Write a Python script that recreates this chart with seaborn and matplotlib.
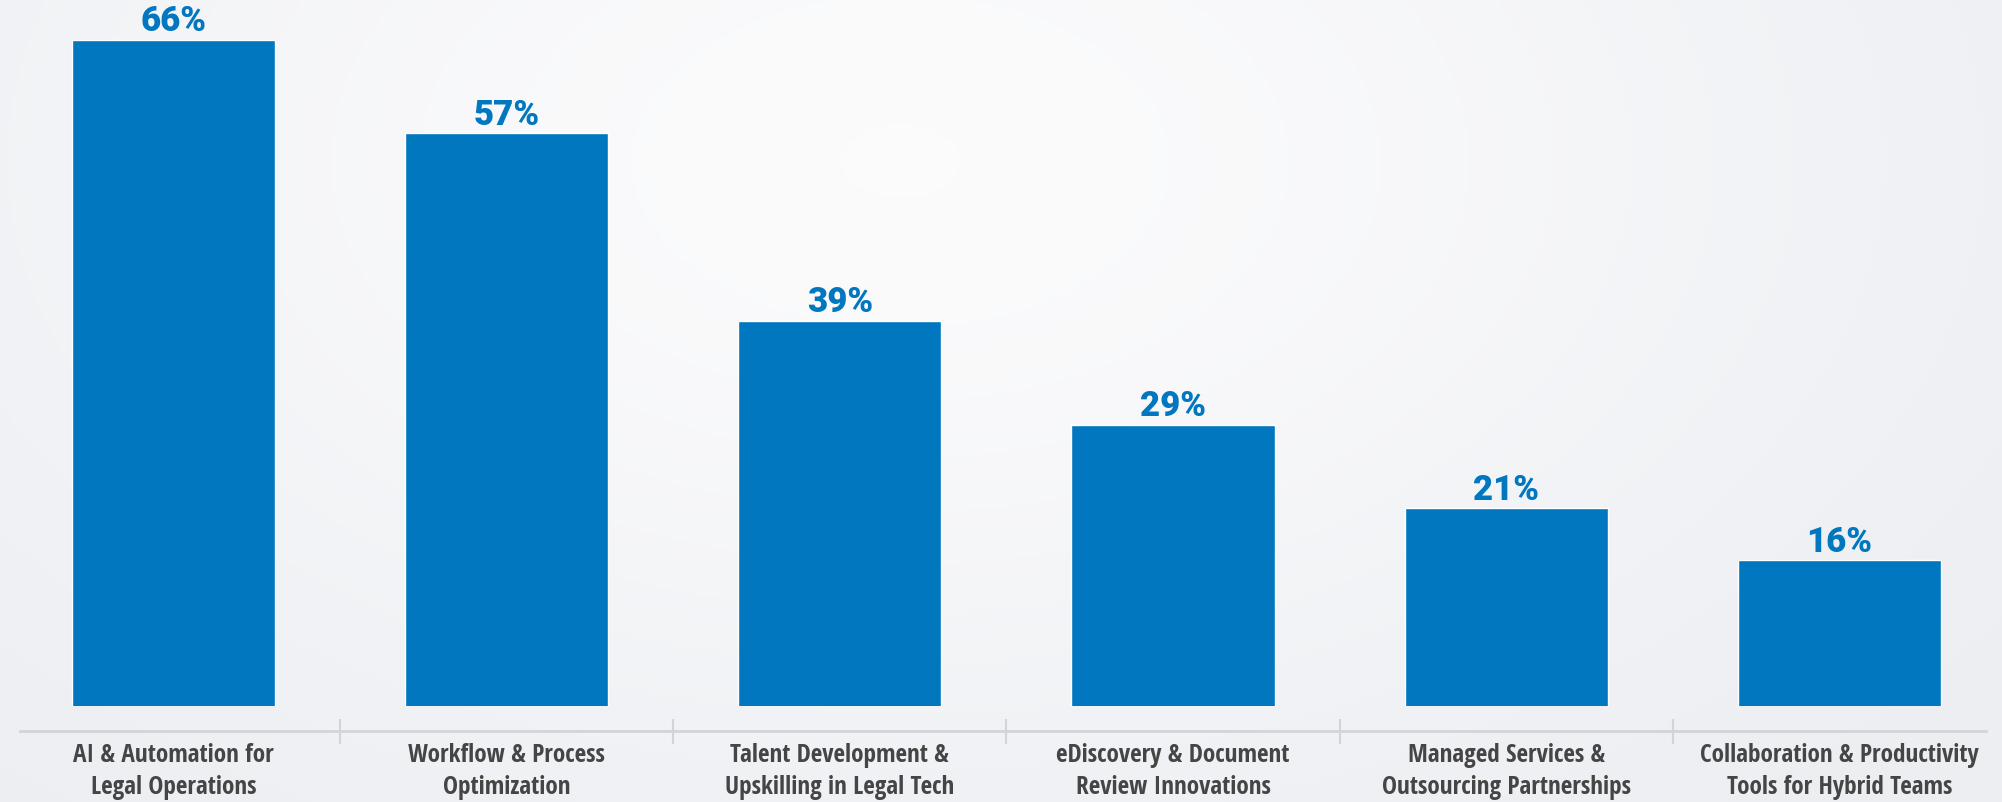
"""Bar chart: share of respondents prioritising each legal-ops investment area."""

import matplotlib.pyplot as plt
import numpy as np
import pandas as pd
import seaborn as sns
from matplotlib import font_manager
from matplotlib.textpath import TextPath

CATEGORIES = [
    "AI & Automation for\nLegal Operations",
    "Workflow & Process\nOptimization",
    "Talent Development &\nUpskilling in Legal Tech",
    "eDiscovery & Document\nReview Innovations",
    "Managed Services &\nOutsourcing Partnerships",
    "Collaboration & Productivity\nTools for Hybrid Teams",
]
SHARES = [66, 57, 39, 29, 21, 16]

BAR_BLUE = "#0077BF"
LABEL_GREY = "#454545"
AXIS_GREY = "#d3d4d8"

# the reference labels use a bold condensed face: widest line ~278 px, caps ~18 px
SAMPLE_LINE = "Collaboration & Productivity"
SAMPLE_WIDTH_PX = 278
SAMPLE_RATIO = 278 / 18.5
SANS_FAMILIES = ("DejaVu Sans", "Liberation Sans", "Noto Sans", "Roboto",
                 "Open Sans", "Lato", "Inter")
SKIP_WORDS = ("Mono", "Serif", "CJK", "Symbol", "Math", "Emoji", "Slab", "Flex")


def weight_number(weight) -> int:
    if isinstance(weight, int):
        return weight
    return font_manager.weight_dict.get(str(weight), 400)


def is_plain_sans(name: str) -> bool:
    if any(word in name for word in SKIP_WORDS):
        return False
    for family in SANS_FAMILIES:
        rest = name[len(family):].strip()
        if name.startswith(family) and (rest == "" or rest.split()[0] in
                                        ("Condensed", "SemiCondensed", "ExtraCondensed",
                                         "Narrow", "Display")):
            return True
    return False


def pick_label_font() -> font_manager.FontProperties:
    """Choose the upright bold sans face whose proportions best fit the reference."""
    best = None
    for entry in font_manager.fontManager.ttflist:
        if entry.style != "normal" or not 600 <= weight_number(entry.weight) <= 800:
            continue
        if not is_plain_sans(entry.name):
            continue
        try:
            prop = font_manager.FontProperties(fname=entry.fname, size=100)
            width = TextPath((0, 0), SAMPLE_LINE, prop=prop).get_extents().width
            cap = TextPath((0, 0), "H", prop=prop).get_extents().height
        except Exception:
            continue
        score = abs(width / cap - SAMPLE_RATIO)
        if best is None or score < best[0]:
            best = (score, entry.fname, width)
    if best is None:
        return font_manager.FontProperties(family="Roboto", weight="bold", size=15)
    _, fname, width = best
    size = SAMPLE_WIDTH_PX * 72 / 100 / (width / 100)
    return font_manager.FontProperties(fname=fname, size=min(size, 19))


label_props = pick_label_font()

sns.set_theme(style="white")
plt.rcParams["font.family"] = ["Liberation Sans", "DejaVu Sans"]

df = pd.DataFrame({"category": CATEGORIES, "share": SHARES})

fig = plt.figure(figsize=(20.02, 8.02), dpi=100)

# soft background gradient
bg = fig.add_axes([0, 0, 1, 1], zorder=-10)
yy, xx = np.mgrid[0:1:200j, 0:1:500j]
glow = np.exp(-((xx - 0.45) ** 2 / 0.25 + (yy - 0.2) ** 2 / 0.6))
bg.imshow(glow, cmap=sns.blend_palette(["#eceef2", "#fbfbfc"], as_cmap=True),
          aspect="auto", extent=[0, 1, 0, 1], origin="upper")
bg.axis("off")

ax = fig.add_axes([0.0034, 96 / 802, 0.9986, 706 / 802])
ax.patch.set_alpha(0)

sns.barplot(data=df, x="category", y="share", color=BAR_BLUE, saturation=1,
            width=0.61, ax=ax)

ax.set_xlim(-0.5, 5.5)
ax.set_ylim(2, 69.8)

ax.bar_label(ax.containers[0], labels=[f"{v}%" for v in SHARES], padding=1,
             color=BAR_BLUE, fontsize=25, fontweight="black",
             family=["Roboto", "Liberation Sans"])

for side in ["top", "right", "left"]:
    ax.spines[side].set_visible(False)
ax.spines["bottom"].set_position(("outward", 18))
ax.spines["bottom"].set_color(AXIS_GREY)
ax.spines["bottom"].set_linewidth(2)
ax.spines["bottom"].set_bounds(-0.46, 5.44)

ax.set_yticks([])
ax.set_xlabel("")
ax.set_ylabel("")
ax.set_xticks(range(len(CATEGORIES)))
ax.set_xticklabels(CATEGORIES, fontproperties=label_props, color=LABEL_GREY,
                   linespacing=1.35)
ax.set_xticks(np.arange(0.5, len(CATEGORIES) - 1, 1), minor=True)
ax.tick_params(axis="x", which="major", length=0, pad=9)
ax.tick_params(axis="x", which="minor", direction="inout", length=18,
               width=1.5, color=AXIS_GREY, bottom=True)

fig.savefig("out.png", dpi=100, facecolor="#f4f5f7")
